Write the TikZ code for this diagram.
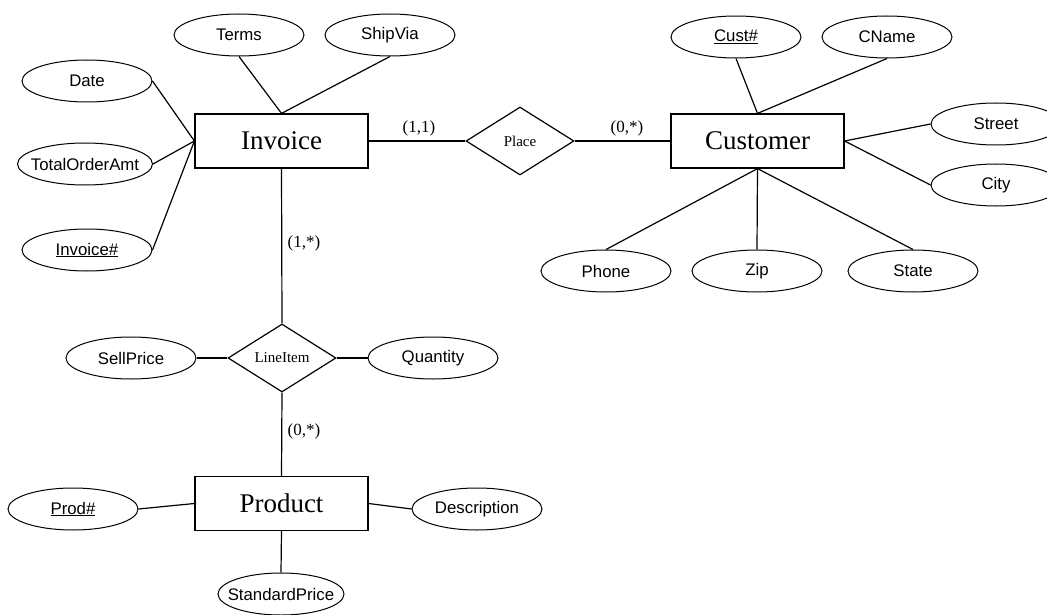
\documentclass[tikz,border=0pt]{standalone}
\usepackage{fontspec}
\setmainfont{Liberation Serif}
\newfontfamily\attrfont{Liberation Sans}
\usetikzlibrary{shapes.geometric}

% attribute text is boxed at zero width so the ellipse size is set by the style alone
\newcommand{\attrtext}[1]{\makebox[0pt][c]{#1}}

\tikzset{
  entity/.style={draw, line width=1.2pt, minimum width=173pt, minimum height=54pt,
    inner sep=0pt, font=\fontsize{27}{30}\selectfont},
  attr/.style={draw, ellipse, line width=1pt, minimum width=130pt, minimum height=42pt,
    inner sep=0pt, font=\attrfont\fontsize{16.8}{19}\selectfont},
  rel/.style={draw, diamond, line width=1.2pt, minimum width=108pt, minimum height=68pt,
    inner sep=0pt, font=\fontsize{15}{17}\selectfont},
  card/.style={inner sep=0pt, font=\fontsize{17}{19}\selectfont},
  link/.style={line width=1.2pt}
}

\begin{document}
\begin{tikzpicture}[x=1pt, y=-1pt]
  \useasboundingbox (0,0) rectangle (1047,615);
  \clip (0,0) rectangle (1047,615);

  % entities
  \node[entity] (invoice)  at (281.5,141) {Invoice};
  \node[entity] (customer) at (757.5,141) {Customer};
  \node[entity] (product)  at (281.5,503.5) {Product};

  % relationships
  \node[rel] (place)    at (520,141) {Place};
  \node[rel] (lineitem) at (282,358) {LineItem};

  % attributes of Invoice
  \node[attr] (terms)   at (239,35)  {\attrtext{Terms}};
  \node[attr] (shipvia) at (390,35)  {\attrtext{ShipVia}};
  \node[attr] (date)    at (87,81)   {\attrtext{Date}};
  \node[attr, minimum width=135pt] (total) at (85,164) {\attrtext{TotalOrderAmt}};
  \node[attr] (invno)   at (87,250)  {\attrtext{\underline{Invoice\#}}};

  % attributes of Customer
  \node[attr] (custno)  at (736,37)  {\attrtext{\underline{Cust\#}}};
  \node[attr] (cname)   at (887,37)  {\attrtext{CName}};
  \node[attr] (street)  at (996,124) {\attrtext{Street}};
  \node[attr] (city)    at (996,185) {\attrtext{City}};
  \node[attr] (phone)   at (606,271) {\attrtext{Phone}};
  \node[attr] (zip)     at (757,271) {\attrtext{Zip}};
  \node[attr] (state)   at (913,271) {\attrtext{State}};

  % attributes of LineItem
  \node[attr] (sellprice) at (131,358) {\attrtext{SellPrice}};
  \node[attr] (quantity)  at (433,358) {\attrtext{Quantity}};

  % attributes of Product
  \node[attr] (prodno) at (73,509)  {\attrtext{\underline{Prod\#}}};
  \node[attr] (descr)  at (477,509) {\attrtext{Description}};
  \node[attr, minimum width=126pt] (stdprice) at (281,594) {\attrtext{StandardPrice}};

  % attribute links
  \draw[link] (terms.south)   -- (invoice.north);
  \draw[link] (shipvia.south) -- (invoice.north);
  \draw[link] (date.east)     -- (invoice.west);
  \draw[link] (total.east)    -- (invoice.west);
  \draw[link] (invno.east)    -- (invoice.west);

  \draw[link] (custno.south) -- (customer.north);
  \draw[link] (cname.south)  -- (customer.north);
  \draw[link] (street.west)  -- (customer.east);
  \draw[link] (city.west)    -- (customer.east);
  \draw[link] (phone.north)  -- (customer.south);
  \draw[link] (zip.north)    -- (customer.south);
  \draw[link] (state.north)  -- (customer.south);

  \draw[link] (sellprice.east) -- (lineitem.west);
  \draw[link] (quantity.west)  -- (lineitem.east);

  \draw[link] (prodno.east)   -- (product.west);
  \draw[link] (descr.west)    -- (product.east);
  \draw[link] (stdprice.north) -- (product.south);

  % relationship links
  \draw[link] (invoice.east)  -- (place.west);
  \draw[link] (place.east)    -- (customer.west);
  \draw[link] (invoice.south) -- (lineitem.north);
  \draw[link] (lineitem.south) -- (product.north);

  % cardinalities
  \node[card] (c11) at (419,128) {(1,1)};
  \node[card] (c0p) at (627,128) {(0,*)};
  \node[card] (c1l) at (304,243) {(1,*)};
  \node[card] (c0l) at (304,431) {(0,*)};
\end{tikzpicture}
\end{document}
